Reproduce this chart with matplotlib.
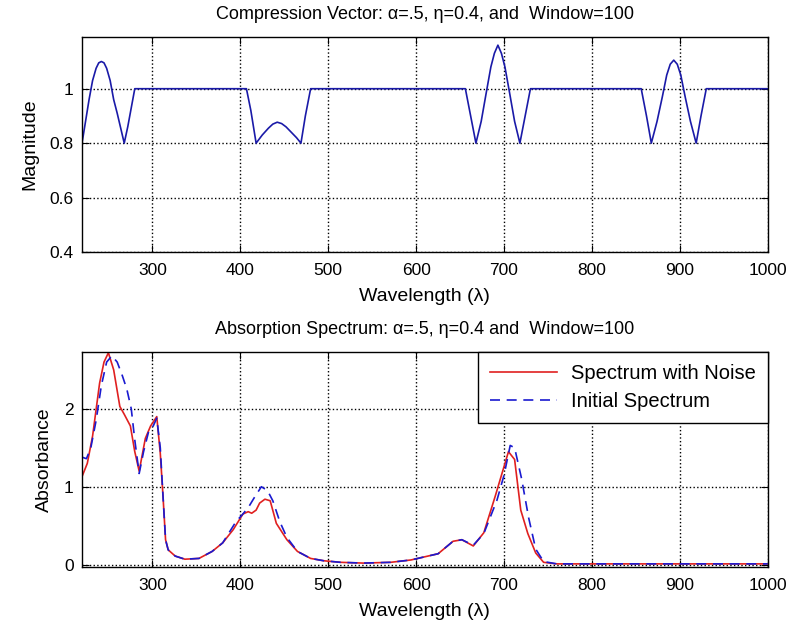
import matplotlib
matplotlib.use('Agg')
import matplotlib.pyplot as plt

# compression vector
comp_x = [220, 224, 228, 232, 236, 239, 242, 245, 248, 252, 256, 260, 264, 268, 272, 276, 280,
          407, 412, 418, 425, 432, 437, 442, 447, 452, 458, 464, 469, 474, 480,
          656, 662, 668, 674, 680, 685, 689, 693, 697, 701, 706, 712, 718, 724, 730,
          856, 862, 867.5, 874, 880, 885, 889, 893, 897, 901, 906, 912, 918.5, 924, 930, 1000]
comp_y = [0.80, 0.88, 0.96, 1.03, 1.075, 1.095, 1.10, 1.095, 1.075, 1.03, 0.96, 0.91, 0.855, 0.80, 0.86, 0.93, 1.00,
          1.00, 0.92, 0.80, 0.83, 0.855, 0.87, 0.877, 0.872, 0.86, 0.84, 0.82, 0.80, 0.90, 1.00,
          1.00, 0.90, 0.80, 0.88, 0.99, 1.08, 1.13, 1.16, 1.13, 1.08, 0.99, 0.88, 0.80, 0.90, 1.00,
          1.00, 0.90, 0.80, 0.88, 0.97, 1.05, 1.09, 1.105, 1.09, 1.05, 0.97, 0.88, 0.80, 0.90, 1.00, 1.00]

# absorption spectra
noise_x = [220, 226, 232, 240, 245, 250, 256, 263, 268, 275, 280, 285, 292, 298, 305,
           309, 312, 315, 318, 326, 337, 353, 368, 380, 392, 403, 409, 413, 418, 422,
           428, 434, 441, 453, 465, 480, 495, 514, 540, 571, 594, 625, 642, 652, 665,
           677, 690, 700, 705, 712, 719, 727, 736, 745, 760, 800, 900, 1000]
noise_y = [1.13, 1.30, 1.65, 2.33, 2.60, 2.72, 2.50, 2.03, 1.93, 1.78, 1.45, 1.20, 1.62, 1.78, 1.90,
           1.43, 0.90, 0.32, 0.19, 0.11, 0.07, 0.08, 0.17, 0.28, 0.45, 0.65, 0.68, 0.66, 0.70, 0.79,
           0.84, 0.82, 0.53, 0.32, 0.17, 0.08, 0.05, 0.03, 0.02, 0.03, 0.06, 0.14, 0.30, 0.32, 0.24,
           0.41, 0.88, 1.26, 1.45, 1.35, 0.70, 0.40, 0.15, 0.03, 0.01, 0.01, 0.01, 0.01]

init_x = [220, 225, 230, 236, 242, 248, 254, 260, 266, 271, 276, 280, 285, 290, 296,
          301, 305, 309, 312, 315, 318, 326, 337, 353, 368, 380, 395, 403, 410, 417,
          424, 431, 437, 445, 453, 465, 480, 495, 514, 540, 571, 594, 625, 642, 652,
          665, 677, 692, 700, 707, 712, 720, 728, 736, 745, 760, 800, 900, 1000]
init_y = [1.38, 1.36, 1.50, 1.85, 2.30, 2.60, 2.68, 2.60, 2.42, 2.25, 2.00, 1.60, 1.17, 1.45, 1.72,
          1.78, 1.88, 1.50, 0.90, 0.32, 0.19, 0.11, 0.07, 0.08, 0.17, 0.28, 0.55, 0.65, 0.75, 0.88,
          1.00, 0.95, 0.82, 0.55, 0.35, 0.17, 0.08, 0.05, 0.03, 0.02, 0.03, 0.06, 0.14, 0.30, 0.32,
          0.25, 0.40, 0.83, 1.15, 1.53, 1.50, 1.10, 0.60, 0.20, 0.04, 0.01, 0.01, 0.01, 0.01]

x_ticks = [300, 400, 500, 600, 700, 800, 900, 1000]

plt.rcParams['font.family'] = ['Liberation Sans', 'DejaVu Sans']

fig = plt.figure(figsize=(7.91, 6.27), dpi=100)
ax1 = fig.add_axes([0.1037, 0.598, 0.867, 0.343])
ax2 = fig.add_axes([0.1037, 0.0957, 0.867, 0.343])


def style(ax):
    ax.grid(True, linestyle=':', color='black', linewidth=1.0)
    ax.tick_params(direction='in', top=True, right=True, length=5, labelsize=12.5)
    ax.tick_params(axis='x', pad=8)
    ax.tick_params(axis='y', pad=6)
    ax.set_xticks(x_ticks)
    ax.set_xlim(220, 1000)
    for s in ax.spines.values():
        s.set_linewidth(1.0)
    ax.set_xlabel('Wavelength (λ)', fontsize=14, labelpad=7)


ax1.plot(comp_x, comp_y, color='#1a1aa8', linewidth=1.2)
style(ax1)
ax1.set_ylim(0.4, 1.19)
ax1.set_yticks([0.4, 0.6, 0.8, 1.0])
ax1.set_yticklabels(['0.4', '0.6', '0.8', '1'])
ax1.set_ylabel('Magnitude', fontsize=14, labelpad=8)
ax1.set_title('Compression Vector: α=.5, η=0.4, and  Window=100', fontsize=13, pad=13)

ax2.plot(noise_x, noise_y, color='#e02020', linewidth=1.2, label='Spectrum with Noise')
ax2.plot(init_x, init_y, color='#1a1ad0', linewidth=1.2, linestyle=(0, (6, 4)),
         label='Initial Spectrum')
style(ax2)
ax2.set_ylim(-0.03, 2.73)
ax2.set_yticks([0, 1, 2])
ax2.set_ylabel('Absorbance', fontsize=14, labelpad=8)
ax2.set_title('Absorption Spectrum: α=.5, η=0.4 and  Window=100', fontsize=13, pad=13)
leg = ax2.legend(loc='upper right', borderaxespad=0, fancybox=False, framealpha=1,
                 edgecolor='black', fontsize=14.5, handlelength=3.3, handletextpad=0.7,
                 borderpad=0.6, labelspacing=0.45)
leg.get_frame().set_linewidth(1.0)

fig.savefig('out.png', dpi=100)
